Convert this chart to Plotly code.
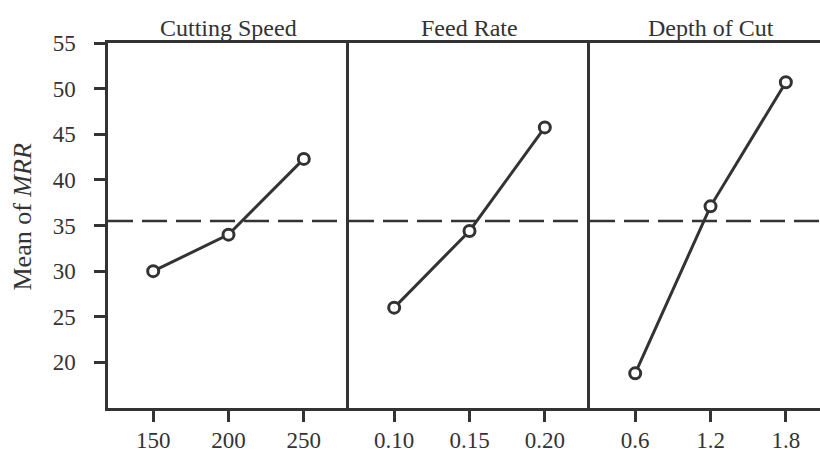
import plotly.graph_objects as go

# ---- data ----
panel_titles = ["Cutting Speed", "Feed Rate", "Depth of Cut"]
speed_levels = [150, 200, 250]
speed_labels = ["150", "200", "250"]
speed_means = [30.0, 34.0, 42.3]

feed_levels = [0.10, 0.15, 0.20]
feed_labels = ["0.10", "0.15", "0.20"]
feed_means = [26.0, 34.4, 45.75]

depth_levels = [0.6, 1.2, 1.8]
depth_labels = ["0.6", "1.2", "1.8"]
depth_means = [18.8, 37.1, 50.7]

grand_mean = 35.5
y_ticks = [20, 25, 30, 35, 40, 45, 50, 55]

# ---- style ----
FONT = "Liberation Serif"
INK = "#333333"
W, H = 820, 450
ML, MT, MB = 108, 43, 42
plot_w = W - ML
d1 = (349 - ML) / plot_w
d2 = (590 - ML) / plot_w

fig = go.Figure()
panels = [
    (speed_levels, speed_means, speed_labels, "x", "y", [120, 280]),
    (feed_levels, feed_means, feed_labels, "x2", "y2", [0.07, 0.23]),
    (depth_levels, depth_means, depth_labels, "x3", "y3", [0.24, 2.072]),
]
for xs, ys, labs, xa, ya, rng in panels:
    fig.add_trace(go.Scatter(
        x=xs, y=ys, xaxis=xa, yaxis=ya, mode="lines+markers",
        line=dict(color=INK, width=3),
        marker=dict(symbol="circle", size=11, color="white",
                    line=dict(color=INK, width=3)),
        showlegend=False, hoverinfo="skip"))

domains = [[0, d1], [d1, d2], [d2, 1]]
for i, (xs, ys, labs, xa, ya, rng) in enumerate(panels):
    sfx = "" if i == 0 else str(i + 1)
    fig.layout["xaxis" + sfx] = dict(
        domain=domains[i], range=rng, anchor="y" + sfx, automargin=False,
        tickvals=xs, ticktext=labs, ticks="outside", ticklen=11,
        tickwidth=2.5, tickcolor=INK, showline=True, linecolor=INK,
        linewidth=2.5, mirror=True, showgrid=False, zeroline=False,
        ticklabelstandoff=-1,
        tickfont=dict(family=FONT, size=23, color=INK))
    ydict = dict(
        domain=[0, 1], range=[15, 55], anchor="x" + sfx, automargin=False,
        showline=True, linecolor=INK, linewidth=2.5, showgrid=False,
        zeroline=False)
    if i == 0:
        ydict.update(tickvals=y_ticks, ticks="outside", ticklen=11,
                     tickwidth=2.5, tickcolor=INK, ticklabelstandoff=14,
                     tickfont=dict(family=FONT, size=23, color=INK))
    else:
        ydict.update(showticklabels=False, ticks="")
    fig.layout["yaxis" + sfx] = ydict

    # grand mean dashed reference line
    fig.add_shape(type="line", xref="x" + sfx + " domain", yref="y" + sfx,
                  x0=0, x1=1, y0=grand_mean, y1=grand_mean,
                  line=dict(color=INK, width=2.5, dash="25px,9px"),
                  layer="below")
    # panel title centred on middle level
    fig.add_annotation(text=panel_titles[i], xref="x" + sfx, yref="paper",
                       x=xs[1], y=1, xanchor="center", yanchor="bottom",
                       yshift=0, showarrow=False,
                       font=dict(family=FONT, size=24, color=INK))

fig.add_annotation(text="Mean of <i>MRR</i>", xref="paper", yref="paper",
                   x=-(ML - 22) / plot_w, y=0.5, yshift=8, xanchor="center",
                   yanchor="middle", textangle=-90, showarrow=False,
                   font=dict(family=FONT, size=26, color=INK))

fig.update_layout(
    width=W, height=H, margin=dict(l=ML, r=0, t=MT, b=MB),
    paper_bgcolor="white", plot_bgcolor="white",
)
fig.write_html(
    "out.html",
    config={"displayModeBar": False},
    post_script="document.body.style.margin='0';"
                "document.body.style.overflow='hidden';",
)
